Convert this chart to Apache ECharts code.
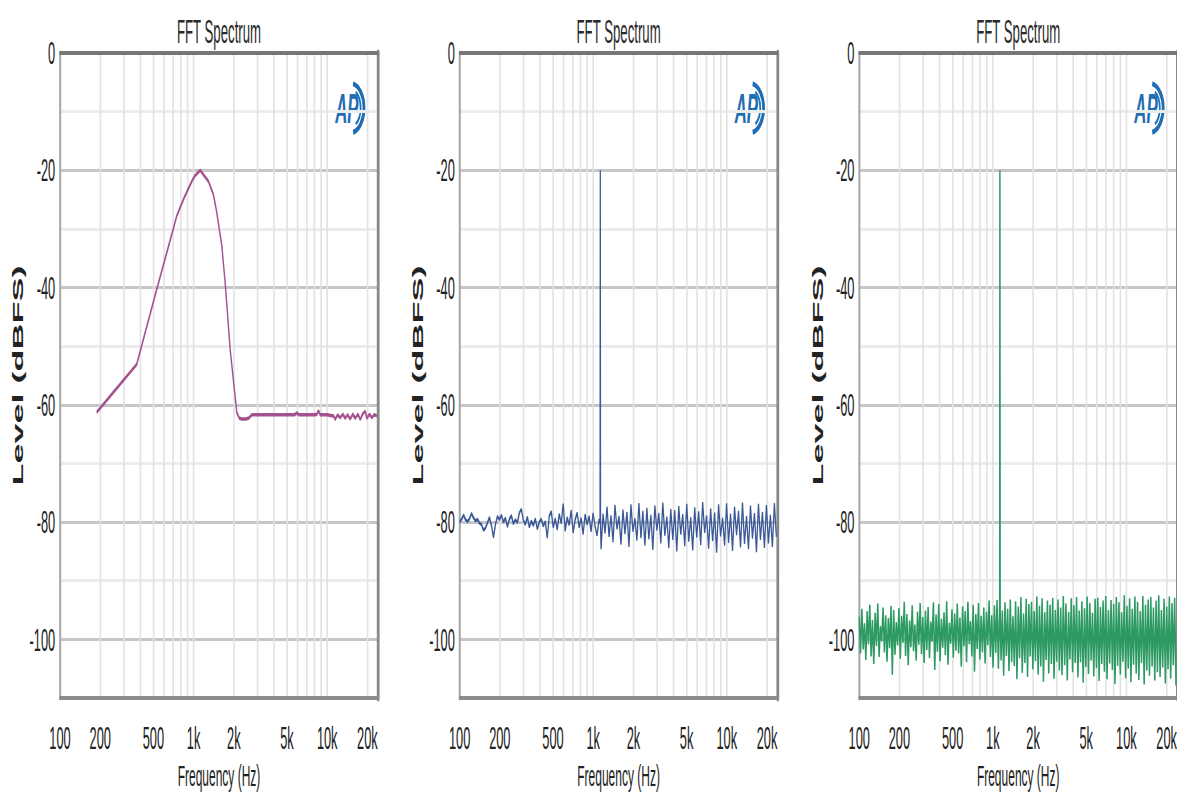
<!DOCTYPE html>
<html><head><meta charset="utf-8">
<script src="https://cdn.jsdelivr.net/npm/echarts@6/dist/echarts.min.js"></script>
<style>
html,body{margin:0;padding:0;width:1177px;height:800px;overflow:hidden;background:#fff;}
#chart{width:2943px;height:800px;transform:scaleX(0.4);transform-origin:0 0;}
</style></head><body><div id="chart"></div>
<script>
// ---------- data ----------
const titles = ['FFT Spectrum', 'FFT Spectrum', 'FFT Spectrum'];
const xLabelFreqs = [100, 200, 500, 1000, 2000, 5000, 10000, 20000];
const xLabelTexts = ['100', '200', '500', '1k', '2k', '5k', '10k', '20k'];
const xGridFreqs = [100,200,300,400,500,600,700,800,900,1000,2000,3000,4000,5000,6000,7000,8000,9000,10000,20000];
const yLabelValues = [0, -20, -40, -60, -80, -100];
const xName = 'Frequency (Hz)';
const yName = 'Level (dBFS)';

// panel 1 : band-pass response
const p1Freq = [188, 375, 530, 748, 849, 969, 1026, 1119, 1292, 1409,
  1493, 1627, 1723, 1877, 2106, 2200, 2295, 2450, 2575, 2729,
  4000, 5700, 5929, 6150, 8100, 8375, 8610, 8870, 9955,
  11150, 11480, 11950, 12500, 13100, 13640, 14200, 14860, 15560, 16200,
  17000, 17670, 18500, 19270, 19800, 20750, 21600, 22500, 23550];
const p1Level = [-61.3, -53.1, -40.3, -27.8, -24.7, -21.9, -20.9, -20.0, -21.9, -24.2,
  -27.3, -32.9, -39.2, -50.5, -61.3, -62.3, -62.4, -62.4, -62.3, -61.7,
  -61.7, -61.7, -61.4, -61.7, -61.7, -61.6, -61.0, -61.7, -61.7,
  -61.9, -62.5, -61.7, -62.2, -61.6, -62.3, -61.7, -62.4, -61.6, -62.3,
  -61.6, -62.5, -61.5, -61.1, -62.3, -61.6, -62.2, -61.7, -61.85];

// panel 2 : tone + noise floor near -80 dBFS (log-spaced bins 100 Hz .. 23.5 kHz)
const p2Level = [
  -80.0, -79.5, -78.8, -79.6, -79.9, -79.4, -78.5, -79.3, -79.8, -79.5, -80.2, -80.4,
  -81.4, -81.0, -80.1, -79.2, -80.6, -82.6, -80.4,
  -79.0, -79.6, -78.8, -80.0, -79.3, -80.8, -79.5, -78.9, -80.3, -79.6, -80.1,
  -78.4, -77.8, -79.7, -80.4, -79.1, -80.9, -79.8, -80.6, -79.4, -81.2, -80.0, -79.5, -80.7, -79.9, -82.7,
  -79.0, -78.2, -80.9, -79.4, -81.3, -78.6, -80.2, -76.9, -81.5, -79.2, -80.5, -78.0, -81.8, -79.6, -78.4,
  -80.9, -79.3, -82.1, -78.7, -80.4, -79.0, -81.6, -78.5, -80.7, -82.3,
  -79.5, -84.6, -78.6, -81.9, -77.4, -82.5, -78.9, -83.4, -77.1, -81.2,
  -79.0, -83.8, -77.9, -82.0, -78.3, -84.2, -77.0, -81.6, -79.4, -83.1,
  -76.8, -82.7, -78.1, -84.0, -77.6, -82.9, -78.8, -84.7, -77.2, -81.4,
  -78.5, -83.6, -76.7, -82.3, -79.1, -84.4, -77.8, -83.0, -78.0, -85.0,
  -77.3, -82.1, -78.7, -84.1, -76.9, -83.3, -79.2, -84.8, -77.5, -82.6,
  -78.2, -83.9, -76.6, -81.8, -78.9, -84.5, -77.7, -83.2, -78.4, -85.2,
  -77.0, -82.4, -79.3, -84.0, -76.8, -83.5, -78.6, -84.9, -77.4, -82.2,
  -78.1, -84.3, -76.7, -83.7, -79.0, -84.6, -77.2, -82.8, -78.5, -85.1,
  -76.9, -83.0, -78.3, -84.4, -77.1, -83.6, -78.8, -84.2, -76.8, -82.5];

// panel 3 : tone + noise floor near -100 dBFS
const p3Level = [
  -96.1, -102.4, -94.8, -101.7, -97.3, -103.5, -95.2, -100.8, -94.1, -102.9,
  -96.7, -104.2, -95.5, -101.1, -93.9, -103.0, -97.8, -100.3, -94.6, -102.2,
  -95.9, -103.8, -96.4, -101.5, -94.3, -106.0, -95.0, -102.6, -97.1, -101.0,
  -94.7, -103.3, -96.0, -100.6, -93.6, -102.8, -95.7, -104.4, -96.8, -101.3,
  -94.2, -102.0, -97.5, -103.6, -95.3, -100.9, -93.8, -102.5, -96.2, -104.0,
  -95.1, -101.8, -94.5, -103.2, -97.0, -100.4, -93.7, -105.2, -95.8, -102.1,
  -94.0, -103.7, -96.5, -101.4, -95.4, -102.7, -93.5, -104.3, -97.2, -100.7,
  -94.9, -103.1, -95.6, -101.9, -93.9, -102.4, -96.3, -104.6, -94.4, -101.2,
  -95.2, -103.9, -93.6, -100.8, -96.9, -102.9, -94.1, -105.5, -95.7, -101.6,
  -93.8, -103.4, -96.0, -102.2, -94.6, -104.1, -95.3, -101.0, -93.4, -103.0,
  -95.9, -104.8, -94.2, -102.3, -93.3, -105.0, -92.9, -103.6, -95.1, -106.2,
  -93.7, -102.8, -94.8, -105.4, -93.2, -103.9, -96.1, -104.5, -93.5, -106.8,
  -94.4, -103.2, -92.8, -105.7, -95.6, -104.0, -93.1, -106.4, -94.0, -102.9,
  -93.6, -105.1, -95.2, -103.7, -92.7, -106.0, -94.3, -104.6, -93.0, -107.2,
  -95.4, -103.5, -93.4, -105.8, -94.1, -104.2, -92.9, -106.7, -95.0, -103.8,
  -93.2, -105.3, -94.6, -106.1, -92.6, -104.4, -93.9, -107.0, -95.3, -103.4,
  -93.0, -105.6, -94.2, -104.0, -92.8, -106.5, -95.1, -103.9, -93.5, -107.4,
  -94.7, -104.7, -92.7, -105.9, -93.8, -103.6, -95.5, -106.3, -93.1, -104.9,
  -92.9, -107.1, -94.5, -104.2, -93.4, -105.5, -92.6, -106.8, -95.0, -104.1,
  -93.3, -105.2, -94.0, -107.6, -92.8, -104.5, -93.7, -106.0, -95.4, -103.8,
  -92.5, -106.6, -94.3, -105.0, -93.0, -107.3, -94.8, -104.3, -92.7, -105.8,
  -93.6, -106.9, -95.2, -104.0, -92.6, -107.7, -94.1, -105.3, -93.2, -106.2,
  -92.8, -104.6, -94.6, -107.0, -93.4, -105.6, -92.5, -106.4, -95.0, -104.8,
  -93.1, -107.5, -94.4, -105.1, -92.7, -106.7, -93.8, -104.4, -92.9, -107.9];

// tone spike (1.13 kHz, -20 dBFS)
const spikeFreq = [1125, 1130, 1135];
const p2Spike = [-80.2, -20.0, -80.6];
const p3Spike = [-94.5, -20.0, -95.0];

const binLo = 100, binHi = 23500;

// ---------- build ----------
function bins(n) {
  const out = [];
  for (let i = 0; i < n; i++) out.push(binLo * Math.pow(binHi / binLo, i / (n - 1)));
  return out;
}
function pairs(freqs, levels, sf, sl) {
  const pts = freqs.map((f, i) => [Math.log10(f), levels[i]]);
  if (sf) sf.forEach((f, i) => pts.push([Math.log10(f), sl[i]]));
  pts.sort((a, b) => a[0] - b[0]);
  return pts;
}
const seriesData = [
  pairs(p1Freq, p1Level),
  pairs(bins(p2Level.length), p2Level, spikeFreq, p2Spike),
  pairs(bins(p3Level.length), p3Level, spikeFreq, p3Spike)
];

const FONT = 'Liberation Sans';
const TXT = '#222';
const LOGO = '#1f6db3';
const GW = 795, GT = 53, GH = 645;
const panels = [
  { left: 150,  color: '#a4528f', lw: 3.5 },
  { left: 1149, color: '#3a5896', lw: 3.2 },
  { left: 2148, color: '#2e9a63', lw: 3.8 }
];
const xMax = Math.log10(24000);
function fmtX(v) {
  const i = xLabelFreqs.findIndex(f => Math.abs(Math.log10(f) - v) < 1e-6);
  return i >= 0 ? xLabelTexts[i] : '';
}

const option = {
  animation: false,
  backgroundColor: '#fff',
  title: [], grid: [], xAxis: [], yAxis: [], series: [], graphic: []
};

panels.forEach((p, k) => {
  option.title.push({
    text: titles[k], left: p.left + GW / 2 - 5, top: 10, textAlign: 'center',
    textStyle: { fontFamily: FONT, fontSize: 33, fontWeight: 'normal', color: '#2a2a2a' }
  });
  option.grid.push({ left: p.left, top: GT, width: GW, height: GH, containLabel: false, outerBoundsMode: 'none' });
  option.xAxis.push({
    gridIndex: k, type: 'value', min: 2, max: xMax, position: 'bottom',
    name: xName, nameLocation: 'middle', nameGap: 62,
    nameTextStyle: { fontFamily: FONT, fontSize: 30, color: TXT, lineHeight: 30 },
    axisLine: { show: true, onZero: false, lineStyle: { color: '#8c8c8c', width: 4 } },
    axisTick: { show: false, customValues: xGridFreqs.map(f => Math.log10(f)) },
    axisLabel: { customValues: xLabelFreqs.map(f => Math.log10(f)), formatter: fmtX, margin: 24,
      fontFamily: FONT, fontSize: 32, color: TXT, lineHeight: 32 },
    splitLine: { show: true, lineStyle: { color: '#e2e2e2', width: 4 } }
  });
  option.xAxis.push({
    gridIndex: k, type: 'value', min: 2, max: xMax, position: 'top',
    axisLine: { show: true, onZero: false, lineStyle: { color: '#777', width: 4 } },
    axisTick: { show: false }, axisLabel: { show: false }, splitLine: { show: false }
  });
  option.yAxis.push({
    gridIndex: k, type: 'value', min: -110, max: 0, interval: 10, position: 'left',
    name: yName, nameLocation: 'middle', nameGap: 86,
    nameTextStyle: { fontFamily: FONT, fontSize: 36, fontWeight: 'bold', color: TXT },
    axisLine: { show: true, onZero: false, lineStyle: { color: '#a8a8a8', width: 5 } },
    axisTick: { show: false },
    axisLabel: { customValues: yLabelValues, margin: 12, fontFamily: FONT, fontSize: 32, color: TXT },
    splitLine: { show: true, lineStyle: { color: ['#ececec', '#c6c6c6'], width: 3 } }
  });
  option.yAxis.push({
    gridIndex: k, type: 'value', min: -110, max: 0, position: 'right',
    axisLine: { show: true, onZero: false, lineStyle: { color: '#888', width: 7 } },
    axisTick: { show: false }, axisLabel: { show: false }, splitLine: { show: false }
  });
  option.series.push({
    type: 'line', xAxisIndex: 2 * k, yAxisIndex: 2 * k, data: seriesData[k],
    showSymbol: false, symbol: 'none', silent: true, clip: true,
    lineStyle: { color: p.color, width: p.lw }
  });
  option.graphic.push({
    type: 'group', x: p.left + GW - 70, y: 108, silent: true,
    children: [
      { type: 'arc', shape: { cx: 0, cy: 0, r: 25, startAngle: -1.35, endAngle: 1.35 }, scaleX: 1.4,
        style: { stroke: LOGO, fill: 'none', lineWidth: 5 } },
      { type: 'arc', shape: { cx: 0, cy: 0, r: 19, startAngle: -1.0, endAngle: 1.0 }, scaleX: 1.4,
        style: { stroke: LOGO, fill: 'none', lineWidth: 3 } },
      { type: 'text', x: -8, y: 1,
        style: { text: 'AP', fontSize: 42, fontWeight: 'bold', fontStyle: 'italic', fontFamily: FONT,
          fill: LOGO, align: 'center', verticalAlign: 'middle', textAlign: 'center', textVerticalAlign: 'middle' } }
    ]
  });
});

const chart = echarts.init(document.getElementById('chart'), null, { renderer: 'svg' });
chart.setOption(option);
</script></body></html>
